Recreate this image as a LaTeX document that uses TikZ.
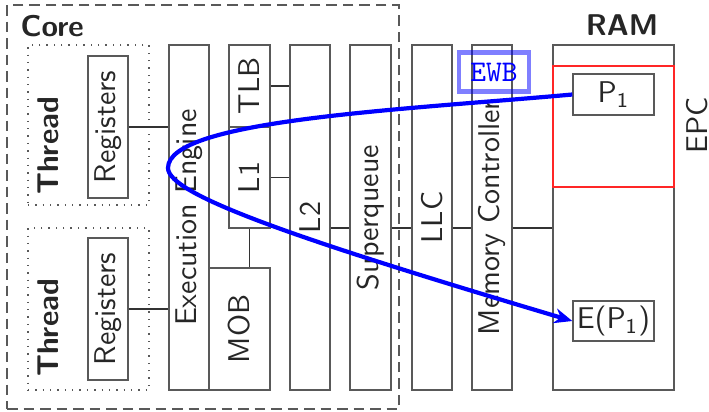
\documentclass[tikz,border=0pt]{standalone}
\usetikzlibrary{arrows.meta}
\begin{document}
\begin{tikzpicture}[x=0.33333pt, y=-0.33333pt, font=\sffamily,
  blk/.style 2 args={draw=black!65, line width=0.45pt, inner sep=0pt,
    minimum width=#1*0.33333pt, minimum height=#2*0.33333pt},
  corebox/.style={blk={392}{404}, dash pattern=on 3.5pt off 2pt},
  threadbox/.style={blk={121}{#1}, dotted},
  vtext/.style={rotate=90, inner sep=0pt, text=black!85},
  htext/.style={inner sep=0pt, text=black!85},
  wire/.style={draw=black!80, line width=0.5pt},
  flow/.style={draw=blue, line width=1.4pt, -{Stealth[length=6pt,width=5pt]}},
  ewbbox/.style={draw=blue, draw opacity=0.5, line width=1.35pt, text=blue,
    font=\ttfamily, inner sep=0pt, minimum width=70*0.33333pt, minimum height=39*0.33333pt}]
\useasboundingbox (0,0) rectangle (709,411);

% core and threads
\node[corebox] (core) at (203,207) {};
\node[htext, anchor=west, font=\sffamily\bfseries] (corelbl) at (20,26) {Core};
\node[threadbox=160] (th1) at (88.5,125) {};
\node[threadbox=162] (th2) at (88.5,309) {};
\node[vtext, font=\sffamily\bfseries] (th1lbl) at (48,146) {Thread};
\node[vtext, font=\sffamily\bfseries] (th2lbl) at (48,328) {Thread};
\node[blk={40}{142}] (reg1) at (108,127) {};
\node[blk={40}{142}] (reg2) at (108,309) {};
\node[vtext] (reg1lbl) at (reg1) {Registers};
\node[vtext] (reg2lbl) at (reg2) {Registers};

% pipeline
\node[blk={40}{345}] (exec) at (189,217.5) {};
\node[vtext] (execlbl) at (exec) {Execution Engine};
\node[blk={41}{82}] (tlb) at (249.5,86) {};
\node[vtext] (tlblbl) at (tlb) {TLB};
\node[blk={41}{101}] (l1) at (249.5,177.5) {};
\node[vtext] (l1lbl) at (l1) {L1};
\node[blk={61}{122}] (mob) at (239.5,329) {};
\node[vtext] (moblbl) at (mob) {MOB};
\node[blk={40}{345}] (l2) at (310,217.5) {};
\node[vtext] (l2lbl) at (l2) {L2};
\node[blk={41}{345}] (sq) at (370.5,217.5) {};
\node[vtext] (sqlbl) at (sq) {Superqueue};
\node[blk={40}{345}] (llc) at (432,217.5) {};
\node[vtext] (llclbl) at (llc) {LLC};
\node[blk={40}{345}] (mc) at (492,217.5) {};
\node[vtext] (mclbl) at (mc) {Memory Controller};

% RAM
\node[blk={121}{345}] (ram) at (613.5,217.5) {};
\node[htext, font=\sffamily\bfseries] (ramlbl) at (622,25) {RAM};
\node[blk={121}{121}, draw=red!85] (epc) at (613.5,126.5) {};
\node[vtext] (epclbl) at (697,125) {EPC};
\node[blk={81}{41}, text=black!85] (p1) at (613.5,94.5) {P\textsubscript{1}};
\node[blk={81}{40}, text=black!85] (ep1) at (613.5,321) {E(P\textsubscript{1})};

% wires
\coordinate (bus) at (0,228);
\draw[wire] (reg1.east) -- (reg1.east -| exec.west);
\draw[wire] (reg2.east) -- (reg2.east -| exec.west);
\draw[wire] (tlb.east) -- (tlb.east -| l2.west);
\draw[wire] (l1.east) -- (l1.east -| l2.west);
\draw[wire] (l1.south) -- (l1.south |- mob.north);
\draw[wire] (l2.east |- bus) -- (sq.west |- bus);
\draw[wire] (sq.east |- bus) -- (llc.west |- bus);
\draw[wire] (llc.east |- bus) -- (mc.west |- bus);
\draw[wire] (mc.east |- bus) -- (ram.west |- bus);

% EWB flow
\coordinate (turn) at (168,168);
\draw[flow] (p1.west) .. controls (400,110) and (168,120) .. (turn)
  .. controls (168,195) and (300,240) .. (ep1.west);
\node[ewbbox] (ewb) at (494,72) {EWB};
\end{tikzpicture}
\end{document}
